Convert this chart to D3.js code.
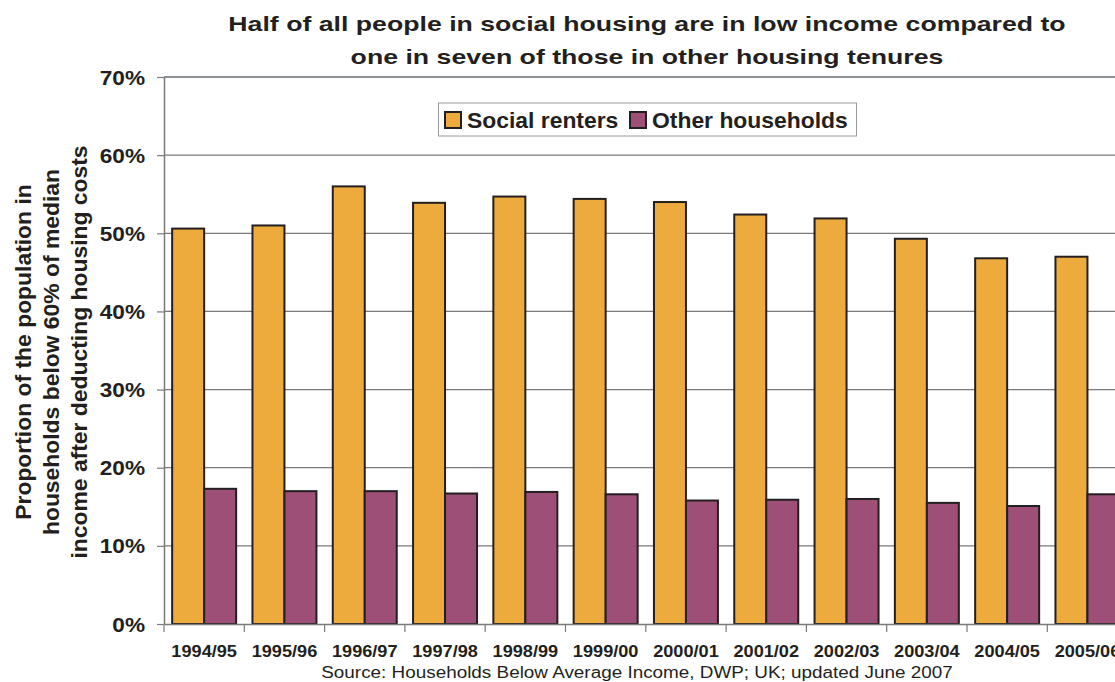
<!DOCTYPE html>
<html>
<head>
<meta charset="utf-8">
<script src="https://cdn.jsdelivr.net/npm/d3@7"></script>
<style>
  html, body { margin: 0; padding: 0; background: #fff; }
  svg { display: block; }
  text { font-family: "Liberation Sans", Arial, Helvetica, sans-serif; fill: #231f20; }
</style>
</head>
<body>
<svg id="chart" width="1115" height="682"></svg>
<script>
// Years of the Households Below Average Income series
const years = ["1994/95", "1995/96", "1996/97", "1997/98", "1998/99", "1999/00",
               "2000/01", "2001/02", "2002/03", "2003/04", "2004/05", "2005/06"];

// Share of people below 60% of median income (after housing costs), %
const socialRenters   = [50.6, 51.0, 56.0, 53.9, 54.7, 54.4, 54.0, 52.4, 51.9, 49.3, 46.8, 47.0];
const otherHouseholds = [17.3, 17.0, 17.0, 16.7, 16.9, 16.6, 15.8, 15.9, 16.0, 15.5, 15.1, 16.6];

const seriesNames = ["Social renters", "Other households"];
const seriesColors = ["#edab3d", "#9e4f77"];

const yTicks = [0, 10, 20, 30, 40, 50, 60, 70];

const titleLines = [
  "Half of all people in social housing are in low income compared to",
  "one in seven of those in other housing tenures"
];
const yTitleLines = [
  "Proportion of the population in",
  "households below 60% of median",
  "income after deducting housing costs"
];
const sourceText = "Source: Households Below Average Income, DWP; UK; updated June 2007";

const svg = d3.select("#chart");

const plotLeft = 164, plotTop = 77, plotBottom = 624;
const step = 80.3;

// Widen the glyphs of a text selection by factor k (the chart's lettering is set wide)
function widen(sel, k) {
  sel.each(function () {
    const w = this.getComputedTextLength();
    d3.select(this)
      .attr("textLength", w * k)
      .attr("lengthAdjust", "spacingAndGlyphs");
  });
}

const x0 = d3.scaleBand()
  .domain(years)
  .range([plotLeft, plotLeft + step * years.length])
  .padding(0);

const x1 = d3.scaleBand()
  .domain(seriesNames)
  .range([0, x0.bandwidth()])
  .paddingInner(0)
  .paddingOuter(0.255);

const y = d3.scaleLinear().domain([0, 70]).range([plotBottom, plotTop]);

// Horizontal gridlines
svg.append("g")
  .selectAll("line")
  .data(yTicks.filter(d => d > 0))
  .join("line")
  .attr("x1", plotLeft)
  .attr("x2", 1115)
  .attr("y1", d => y(d))
  .attr("y2", d => y(d))
  .attr("stroke", d => d === 70 ? "#8c9196" : "#7a7a7a")
  .attr("stroke-width", d => d === 70 ? 2 : 1.2);

// Bars
const table = years.map((yr, i) => ({ year: yr, values: [socialRenters[i], otherHouseholds[i]] }));

svg.append("g")
  .selectAll("g")
  .data(table)
  .join("g")
  .attr("transform", d => `translate(${x0(d.year)},0)`)
  .selectAll("rect")
  .data(d => d.values.map((v, j) => ({ key: seriesNames[j], value: v, color: seriesColors[j] })))
  .join("rect")
  .attr("x", d => x1(d.key))
  .attr("width", x1.bandwidth())
  .attr("y", d => y(d.value))
  .attr("height", d => y(0) - y(d.value))
  .attr("fill", d => d.color)
  .attr("stroke", "#231f20")
  .attr("stroke-width", 2);

// Y axis
const yAxis = d3.axisLeft(y)
  .tickValues(yTicks)
  .tickFormat(d => d + "%")
  .tickSizeInner(7)
  .tickSizeOuter(0)
  .tickPadding(12);

const gy = svg.append("g")
  .attr("transform", `translate(${plotLeft},0)`)
  .call(yAxis);
gy.select(".domain").attr("stroke", "#7a7a7a").attr("stroke-width", 1.5);
gy.selectAll(".tick line").attr("stroke", "#7a7a7a").attr("stroke-width", 1.2);
gy.selectAll(".tick text")
  .attr("font-size", 19.5)
  .attr("font-weight", "bold")
  .attr("font-family", "Liberation Sans, Arial, sans-serif")
  .attr("fill", "#231f20")
  .attr("dy", "0.36em")
  .call(widen, 1.16);

// X axis
const xAxis = d3.axisBottom(x0).tickSize(0).tickPadding(21);
const gx = svg.append("g")
  .attr("transform", `translate(0,${plotBottom})`)
  .call(xAxis);
gx.select(".domain").attr("stroke", "#7a7a7a").attr("stroke-width", 1.5);
gx.selectAll(".tick text")
  .attr("font-size", 16.5)
  .attr("font-weight", "bold")
  .attr("font-family", "Liberation Sans, Arial, sans-serif")
  .attr("fill", "#231f20")
  .call(widen, 1.1);

// Category separator ticks below the axis
gx.append("g")
  .selectAll("line")
  .data(d3.range(years.length + 1))
  .join("line")
  .attr("x1", i => plotLeft + i * x0.step())
  .attr("x2", i => plotLeft + i * x0.step())
  .attr("y1", 0)
  .attr("y2", 8)
  .attr("stroke", "#7a7a7a")
  .attr("stroke-width", 1.2);

// Title
svg.append("g")
  .selectAll("text")
  .data(titleLines)
  .join("text")
  .attr("x", 647)
  .attr("y", (d, i) => 31 + i * 33)
  .attr("text-anchor", "middle")
  .attr("font-size", 21)
  .attr("font-weight", "bold")
  .text(d => d)
  .call(widen, 1.27);

// Y axis title
svg.append("g")
  .attr("transform", "translate(0,352) rotate(-90)")
  .selectAll("text")
  .data(yTitleLines)
  .join("text")
  .attr("x", 0)
  .attr("y", (d, i) => 31 + i * 28)
  .attr("text-anchor", "middle")
  .attr("font-size", 22)
  .attr("font-weight", "bold")
  .text(d => d)
  .call(widen, 1.04);

// Legend
const legend = svg.append("g");
legend.append("rect")
  .attr("x", 438.5).attr("y", 103)
  .attr("width", 418).attr("height", 33)
  .attr("fill", "#fff")
  .attr("stroke", "#9a9a9a")
  .attr("stroke-width", 1);

const legendX = [445, 630];
const legendItems = legend.selectAll("g.item")
  .data(seriesNames)
  .join("g")
  .attr("class", "item")
  .attr("transform", (d, i) => `translate(${legendX[i]},112)`);
legendItems.append("rect")
  .attr("width", 16).attr("height", 16)
  .attr("fill", (d, i) => seriesColors[i])
  .attr("stroke", "#231f20")
  .attr("stroke-width", 2);
legendItems.append("text")
  .attr("x", 22)
  .attr("y", 16)
  .attr("font-size", 22)
  .attr("font-weight", "bold")
  .text(d => d)
  .call(widen, 1.04);

// Source note
svg.append("text")
  .attr("x", 637)
  .attr("y", 678)
  .attr("text-anchor", "middle")
  .attr("font-size", 16)
  .text(sourceText)
  .call(widen, 1.18);
</script>
</body>
</html>
